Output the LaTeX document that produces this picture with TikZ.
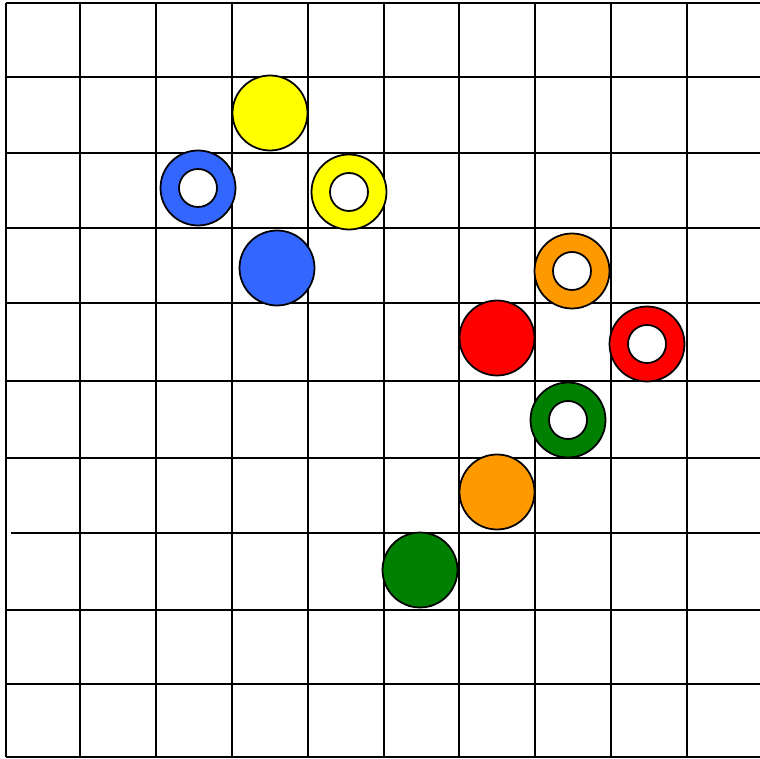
\documentclass[tikz,border=0pt]{standalone}
\usepackage{xcolor}
\usepackage{tikz}
\usetikzlibrary{positioning}
\definecolor{pblue}{RGB}{51,102,255}
\definecolor{pyellow}{RGB}{255,255,0}
\definecolor{porange}{RGB}{255,153,0}
\definecolor{pred}{RGB}{255,0,0}
\definecolor{pgreen}{RGB}{0,128,0}
\tikzset{
  vline/.style={line width=1.6pt,black},
  hline/.style={line width=1.3pt,black},
  piece/.style={circle,draw=black,line width=1pt,minimum size=1.5cm,inner sep=0pt},
  hole/.style={circle,draw=black,fill=white,line width=1pt,minimum size=.76cm,inner sep=0pt}
}
\begin{document}
\begin{tikzpicture}[x=0.02cm,y=-0.02cm]
  \useasboundingbox (0,0) rectangle (760,759);
  \fill[white] (0,0) rectangle (760,759);

  % board
  \foreach \gx in {6,80,156,232,308,384,459,535,611,687}
    \draw[vline] (\gx,3) -- (\gx,757);
  \foreach \gy in {3,77,153,228,303,381,458,610,684,757}
    \draw[hline] (6,\gy) -- (760,\gy);
  \draw[hline] (11,533) -- (760,533);

  % solid pieces
  \node[piece,fill=pyellow] (ys) at (270,113) {};
  \node[piece,fill=pblue] (bs) at (277,268) {};
  \node[piece,fill=pred] (rs) at (497,338) {};
  \node[piece,fill=porange] (os) at (497,492) {};
  \node[piece,fill=pgreen] (gs) at (420,570) {};

  % ring pieces
  \node[piece,fill=pblue] (br) at (198,188) {};
  \node[hole] (brh) at (br) {};
  \node[piece,fill=pyellow] (yr) at (349,192) {};
  \node[hole] (yrh) at (yr) {};
  \node[piece,fill=porange] (or) at (572,271) {};
  \node[hole] (orh) at (or) {};
  \node[piece,fill=pred] (rr) at (647,344) {};
  \node[hole] (rrh) at (rr) {};
  \node[piece,fill=pgreen] (gr) at (568,420) {};
  \node[hole] (grh) at (gr) {};
\end{tikzpicture}
\end{document}
